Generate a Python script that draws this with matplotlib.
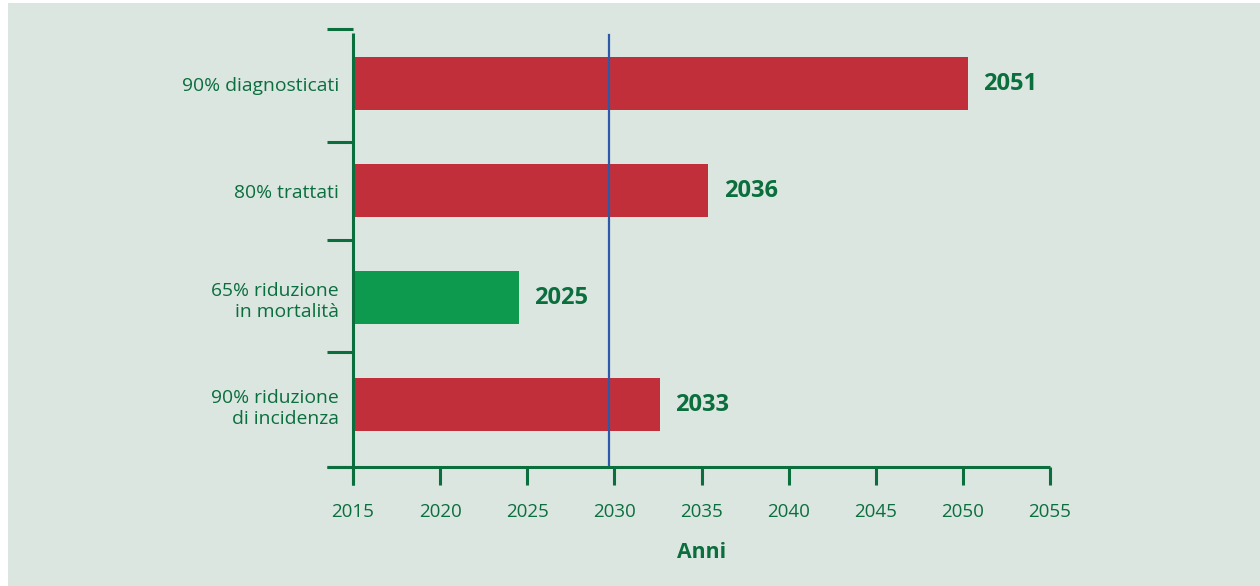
import matplotlib
matplotlib.use("Agg")
import matplotlib.pyplot as plt
from matplotlib.patches import Rectangle

categories = ["90% riduzione\ndi incidenza", "65% riduzione\nin mortalità", "80% trattati", "90% diagnosticati"]
bar_ends = [2032.6, 2024.5, 2035.4, 2050.3]
value_labels = ["2033", "2025", "2036", "2051"]
bar_colors = ["#c1303a", "#0e9a4e", "#c1303a", "#c1303a"]
start_year = 2015
target_year = 2029.7
xticks = [2015, 2020, 2025, 2030, 2035, 2040, 2045, 2050, 2055]

BG = "#dbe6e1"
GREEN = "#0b6e3d"
FONT = "Open Sans"

W, H = 1260, 586
fig = plt.figure(figsize=(W / 100, H / 100), dpi=100, facecolor="white")
bgrect = Rectangle((8 / W, 0), 1 - 8 / W, 1 - 3 / H, transform=fig.transFigure,
                   facecolor=BG, edgecolor="none", zorder=-10)
fig.patches.append(bgrect)

ax = fig.add_axes([353 / W, 1 - 467 / H, (1050 - 353) / W, (467 - 29) / H])
ax.set_facecolor("none")
ax.set_zorder(1)
ax.set_xlim(2015, 2055)
ax.set_ylim(-0.5, 3.5)

ypos = [0.07 + i * 0.977 for i in range(len(categories))]
widths = [e - start_year for e in bar_ends]
ax.barh(ypos, widths, left=start_year, height=0.485, color=bar_colors, zorder=2)

for y, e, lab in zip(ypos, bar_ends, value_labels):
    ax.annotate(lab, xy=(e, y), xytext=(11, 0), textcoords="offset points",
                ha="left", va="center", fontsize=17, fontweight="bold",
                color=GREEN, family=FONT)

ax.axvline(target_year, ymin=0, ymax=0.986, color="#2d5aa8", lw=1.6, zorder=3)

for s in ax.spines.values():
    s.set_visible(False)

lw = 2.2
ax.plot([2013.5, 2055], [-0.5, -0.5], color=GREEN, lw=lw, clip_on=False, zorder=4,
        solid_capstyle="butt")
ax.plot([2015, 2015], [-0.665, 3.465], color=GREEN, lw=lw, clip_on=False, zorder=4,
        solid_capstyle="butt")

ax.set_xticks(xticks)
ax.set_xticklabels([str(t) for t in xticks])
ax.tick_params(axis="x", direction="out", length=13, width=lw, color=GREEN,
               labelcolor=GREEN, labelsize=13.5, pad=13)
ax.set_yticks([-0.5, 0.55, 1.573, 2.468, 3.5])
ax.set_yticklabels([])
ax.set_yticks(ypos, minor=True)
ax.set_yticklabels(categories, minor=True)
ax.tick_params(axis="y", which="major", direction="out", length=19, width=lw, color=GREEN)
ax.tick_params(axis="y", which="minor", length=0, labelcolor=GREEN, labelsize=13.9, pad=10)
for lbl in ax.get_xticklabels() + ax.get_yticklabels(minor=True):
    lbl.set_family(FONT)
for lbl in ax.get_yticklabels(minor=True):
    lbl.set_linespacing(1.24)
    lbl.set_ha("right")

ax.set_xlabel("Anni", fontsize=15.3, fontweight="bold", color=GREEN, family=FONT, labelpad=15)

fig.savefig("out.png", dpi=100, facecolor="white")
